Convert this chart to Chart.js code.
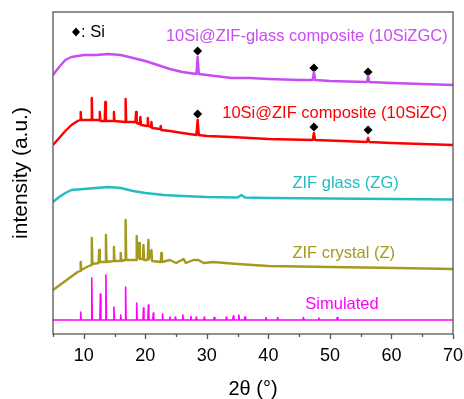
<!DOCTYPE html>
<html>
<head>
<meta charset="utf-8">
<script src="https://cdn.jsdelivr.net/npm/chart.js@4"></script>
<style>
  html, body { margin: 0; padding: 0; background: #fff; }
  #wrap { width: 464px; height: 399px; position: relative; }
</style>
</head>
<body>
<div id="wrap"><canvas id="xrd"></canvas></div>
<script>

// 10Si@ZIF-glass composite (10SiZGC)
const zgcX = [5, 6, 7, 8, 10, 12, 14, 16, 18, 20, 22, 24, 26,
  28.3, 28.5, 28.7, 30, 34, 37, 40, 45, 47.2, 47.4, 47.6, 50, 56.0, 56.2, 56.4, 60, 65, 70];
const zgcY = [259, 267, 274, 277, 279, 279, 280, 279, 276, 273, 269, 265, 262,
  260, 277, 260, 259, 256, 256, 255, 254, 254, 262, 254, 253, 252, 258, 252, 251, 250, 249];

// 10Si@ZIF composite (10SiZC)
const zcX = [5, 6, 7, 8, 9, 9.4, 9.5, 9.6, 11.2, 11.3, 11.4, 12.5, 12.6, 12.7,
  13.4, 13.5, 13.6, 14.8, 14.9, 15.0, 16.7, 16.8, 16.9, 18.4, 18.5, 18.6,
  19.1, 19.2, 19.3, 20.3, 20.4, 20.5, 20.9, 21.0, 21.1, 22.4, 22.5, 22.6, 24, 26,
  28.3, 28.5, 28.7, 30, 34, 37, 40, 47.2, 47.4, 47.6, 52, 56.0, 56.2, 56.4, 60, 65, 70];
const zcY = [189, 196, 203, 209, 213, 214, 222, 214, 214, 236, 214, 214, 222, 213,
  213, 232, 213, 213, 222, 213, 212, 235, 212, 212, 222, 211,
  210, 217, 209, 208, 216, 208, 207, 212, 206, 205, 208, 204, 203, 201,
  199, 214, 199, 198, 197, 196, 195, 194, 201, 194, 193, 192, 196, 192, 191, 190, 189];

// ZIF glass (ZG)
const zgX = [5, 6, 7, 8, 10, 12, 14, 16, 18, 20, 23, 26, 30, 35, 35.6, 36.2, 40, 50, 60, 70];
const zgY = [132, 137, 141, 144, 145, 146, 147, 146, 143, 141, 139, 138, 137, 136.5, 139, 136.5, 136, 135.5, 135, 134.5];

// ZIF crystal (Z)
const zX = [5, 7, 9, 9.4, 9.5, 9.6, 10.5, 11.2, 11.3, 11.4, 12.4, 12.5, 12.6,
  13.5, 13.6, 13.7, 14.8, 14.9, 15.0, 15.9, 16.0, 16.1, 16.7, 16.8, 16.9,
  18.5, 18.6, 18.7, 19.0, 19.1, 19.6, 19.7, 19.8, 20.4, 20.5, 20.6, 21.0, 21.1,
  22.5, 22.6, 22.7, 24.0, 25.0, 26.2, 26.6, 27.8, 28.6, 29.5, 31, 33, 35, 40, 50, 61, 70];
const zY = [44, 53, 62, 63, 72, 64, 67, 69, 96, 70, 71, 84, 72,
  72, 99, 72, 73, 87, 73, 73, 81, 73, 74, 114, 74,
  74, 98, 76, 91, 75, 75, 89, 74, 74, 94, 75, 84, 73,
  72, 81, 72, 74, 71, 75, 71, 74, 74, 71, 72, 71, 70, 68, 67, 66, 65];

// Simulated
const simX = [5,
  9.42, 9.5, 9.58, 11.22, 11.3, 11.38, 12.62, 12.7, 12.78, 13.52, 13.6, 13.68,
  14.82, 14.9, 14.98, 15.92, 16.0, 16.08, 16.72, 16.8, 16.88, 18.52, 18.6, 18.68,
  19.62, 19.7, 19.78, 20.42, 20.5, 20.58, 21.22, 21.3, 21.38, 22.72, 22.8, 22.88,
  23.9, 24.0, 24.1, 24.8, 24.9, 25.0, 26.0, 26.1, 26.2, 27.3, 27.4, 27.5,
  28.2, 28.3, 28.4, 29.5, 29.6, 29.7, 31.1, 31.2, 31.3, 33.1, 33.2, 33.3,
  34.2, 34.3, 34.4, 35.1, 35.2, 35.3, 36.1, 36.2, 36.3, 39.5, 39.6, 39.7,
  41.4, 41.5, 41.6, 45.6, 45.7, 45.8, 48.1, 48.2, 48.3, 51.1, 51.2, 51.3,
  70];
const simY = [14,
  14, 22, 14, 14, 56, 14, 14, 40, 14, 14, 59, 14,
  14, 27, 14, 14, 19, 14, 14, 47, 14, 14, 31, 14,
  14, 26, 14, 14, 29, 14, 14, 21, 14, 14, 20, 14,
  14, 17, 14, 14, 17, 14, 14, 19, 14, 14, 17.5, 14,
  14, 17, 14, 14, 17, 14, 14, 16.5, 14, 14, 17, 14,
  14, 18, 14, 14, 19, 14, 14, 17, 14, 14, 16.5, 14,
  14, 16.5, 14, 14, 16.5, 14, 14, 16, 14, 14, 16.5, 14,
  14];

// Si reflections marked with diamonds
const siX = [28.5, 47.4, 56.2];
const siZgcY = [283, 266, 262];
const siZcY = [220, 207, 204];

const FONT = '"Liberation Sans", Arial, sans-serif';

function pts(xs, ys) {
  return xs.map((x, i) => ({ x, y: ys[i] }));
}

function trace(label, xs, ys, color, width) {
  return {
    label,
    data: pts(xs, ys),
    borderColor: color,
    borderWidth: width,
    borderJoinStyle: 'round',
    pointRadius: 0,
    tension: 0,
    fill: false
  };
}

const overlay = {
  id: 'overlay',
  afterDraw(chart) {
    const { ctx, chartArea: a, scales: { x, y } } = chart;
    ctx.save();
    ctx.strokeStyle = '#555';
    ctx.lineWidth = 1.3;
    ctx.strokeRect(a.left, a.top, a.right - a.left, a.bottom - a.top);
    // major / minor tick marks below the axis
    for (let v = 5; v <= 70; v += 5) {
      const px = Math.round(x.getPixelForValue(v)) + 0.5;
      ctx.beginPath();
      ctx.moveTo(px, a.bottom);
      ctx.lineTo(px, a.bottom + (v % 10 === 0 ? 5 : 3));
      ctx.stroke();
    }

    // trace names
    ctx.font = '16.5px ' + FONT;
    ctx.textBaseline = 'middle';
    ctx.textAlign = 'left';
    const names = [
      ['10Si@ZIF-glass composite (10SiZGC)', '#c84cf0', 23.35, 298],
      ['10Si@ZIF composite (10SiZC)', '#ff0000', 32.5, 221],
      ['ZIF glass (ZG)', '#22bcc2', 43.9, 151],
      ['ZIF crystal (Z)', '#a39a1e', 43.9, 80.7],
      ['Simulated', '#ff00ff', 46.0, 29.7]
    ];
    names.forEach(([t, c, vx, vy]) => {
      ctx.fillStyle = c;
      ctx.fillText(t, x.getPixelForValue(vx), y.getPixelForValue(vy));
    });

    // "◆: Si" key
    const kx = a.left + 23, ky = a.top + 20;
    ctx.fillStyle = '#000';
    ctx.beginPath();
    ctx.moveTo(kx, ky - 4.5);
    ctx.lineTo(kx + 4, ky);
    ctx.lineTo(kx, ky + 4.5);
    ctx.lineTo(kx - 4, ky);
    ctx.closePath();
    ctx.fill();
    ctx.fillText(': Si', kx + 5, ky);
    ctx.restore();
  }
};

new Chart(document.getElementById('xrd').getContext('2d'), {
  type: 'line',
  data: {
    datasets: [
      trace('10SiZGC', zgcX, zgcY, '#c84cf0', 2.4),
      trace('10SiZC', zcX, zcY, '#ff0000', 2.4),
      trace('ZG', zgX, zgY, '#22bcc2', 2.4),
      trace('Z', zX, zY, '#a39a1e', 2.4),
      trace('Simulated', simX, simY, '#ff00ff', 1.6),
      {
        type: 'scatter',
        label: 'Si',
        data: pts(siX, siZgcY).concat(pts(siX, siZcY)),
        pointStyle: 'rectRot',
        pointRadius: 4.5,
        backgroundColor: '#000',
        borderColor: '#000',
        borderWidth: 0
      }
    ]
  },
  options: {
    responsive: true,
    maintainAspectRatio: false,
    animation: false,
    layout: { padding: { top: 12, right: 11, left: 0, bottom: 0 } },
    plugins: { legend: { display: false }, tooltip: { enabled: false } },
    scales: {
      x: {
        type: 'linear',
        min: 5,
        max: 70,
        afterFit(scale) {
          scale.height = 65;
          scale.paddingLeft = 0;
          scale.paddingRight = 0;
        },
        border: { display: false },
        grid: { display: false, drawTicks: false },
        ticks: {
          stepSize: 5,
          autoSkip: false,
          maxRotation: 0,
          padding: 11,
          color: '#000',
          font: { family: FONT, size: 18 },
          callback: v => (v % 10 === 0 ? v : '')
        },
        title: {
          display: true,
          text: '2θ (°)',
          color: '#000',
          padding: { top: 0, bottom: 0 },
          font: { family: FONT, size: 20, lineHeight: 1 }
        }
      },
      y: {
        min: 0,
        max: 322,
        afterFit(scale) { scale.width = 53; },
        border: { display: false },
        grid: { display: false, drawTicks: false },
        ticks: { display: false },
        title: {
          display: true,
          text: 'intensity (a.u.)',
          color: '#000',
          padding: { top: 10.5, bottom: 0 },
          font: { family: FONT, size: 21, lineHeight: 1 }
        }
      }
    }
  },
  plugins: [overlay]
});
</script>
</body>
</html>
